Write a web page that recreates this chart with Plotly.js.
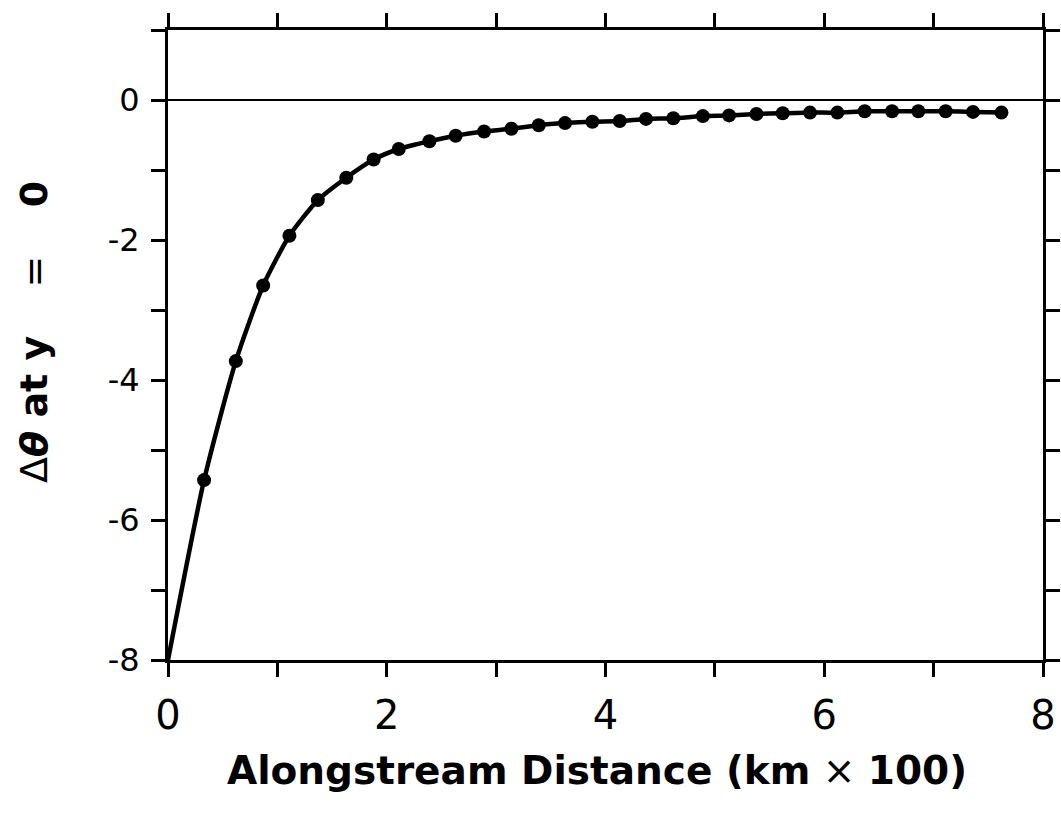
<!DOCTYPE html>
<html>
<head>
<meta charset="utf-8">
<script src="https://cdn.plot.ly/plotly-3.0.1.min.js"></script>
<style>html,body{margin:0;padding:0;background:#fff;}#chart{width:1061px;height:813px;}</style>
</head>
<body>
<div id="chart"></div>
<script>
// Data
const distance = [0.33, 0.62, 0.87, 1.11, 1.37, 1.63, 1.88, 2.11, 2.39, 2.63, 2.89, 3.14, 3.39, 3.63, 3.88, 4.13, 4.37, 4.62, 4.89, 5.13, 5.38, 5.62, 5.87, 6.12, 6.37, 6.62, 6.86, 7.11, 7.36, 7.62];
const deltaTheta = [-5.43, -3.73, -2.65, -1.94, -1.43, -1.11, -0.85, -0.70, -0.59, -0.51, -0.45, -0.41, -0.36, -0.33, -0.31, -0.30, -0.27, -0.26, -0.23, -0.22, -0.20, -0.19, -0.18, -0.18, -0.16, -0.16, -0.16, -0.16, -0.17, -0.18];
const startX = 0;
const startY = -8;
const xTickVals = [0, 1, 2, 3, 4, 5, 6, 7, 8];
const xTickText = ['0', '', '2', '', '4', '', '6', '', '8'];
const yTickVals = [-8, -7, -6, -5, -4, -3, -2, -1, 0, 1];
const yTickText = ['-8', '', '-6', '', '-4', '', '-2', '', '0', ''];

const curve = {
  x: [startX].concat(distance),
  y: [startY].concat(deltaTheta),
  mode: 'lines',
  line: {color: '#000', width: 4.5, shape: 'spline', smoothing: 0.6},
  hoverinfo: 'skip',
  showlegend: false
};
const dots = {
  x: distance,
  y: deltaTheta,
  mode: 'markers',
  marker: {color: '#000', size: 14},
  showlegend: false
};

const axisCommon = {
  showgrid: false,
  zeroline: false,
  showline: true,
  linecolor: '#000',
  linewidth: 3,
  mirror: 'ticks',
  ticks: 'outside',
  ticklen: 14,
  tickwidth: 3,
  tickcolor: '#000',
  tickmode: 'array'
};

const layout = {
  width: 1061,
  height: 813,
  margin: {l: 168, r: 18, t: 30, b: 153},
  paper_bgcolor: '#fff',
  plot_bgcolor: '#fff',
  font: {family: 'DejaVu Sans, sans-serif', color: '#000'},
  xaxis: Object.assign({}, axisCommon, {
    range: [0, 8],
    tickvals: xTickVals,
    ticktext: xTickText,
    ticklabelstandoff: 4,
    tickfont: {size: 40, color: '#000', family: 'DejaVu Sans, sans-serif'}
  }),
  yaxis: Object.assign({}, axisCommon, {
    range: [-8, 1],
    tickvals: yTickVals,
    ticktext: yTickText,
    ticklabelstandoff: 5,
    tickfont: {size: 32, color: '#000', family: 'DejaVu Sans, sans-serif'}
  }),
  shapes: [{
    type: 'line', xref: 'paper', yref: 'y', x0: 0, x1: 1, y0: 0, y1: 0,
    line: {color: '#000', width: 2}
  }],
  annotations: [
    {
      xref: 'paper', yref: 'paper', x: 0.49, y: -0.175, yanchor: 'middle', xanchor: 'center',
      showarrow: false,
      text: '<b>Alongstream Distance (km</b> \u00d7 <b>100)</b>',
      font: {size: 39, color: '#000', family: 'DejaVu Sans, sans-serif'}
    },
    {
      xref: 'paper', yref: 'paper', x: -0.153, y: 0.521, xanchor: 'center', yanchor: 'middle',
      showarrow: false, textangle: -90,
      text: '\u0394<b><i>\u03b8</i> at y</b>\u00a0\u00a0\u00a0\u00a0=\u00a0\u00a0\u00a0\u00a0<b>0</b>',
      font: {size: 38, color: '#000', family: 'DejaVu Sans, sans-serif'}
    }
  ]
};

Plotly.newPlot('chart', [curve, dots], layout, {displayModeBar: false, staticPlot: true});
</script>
</body>
</html>
